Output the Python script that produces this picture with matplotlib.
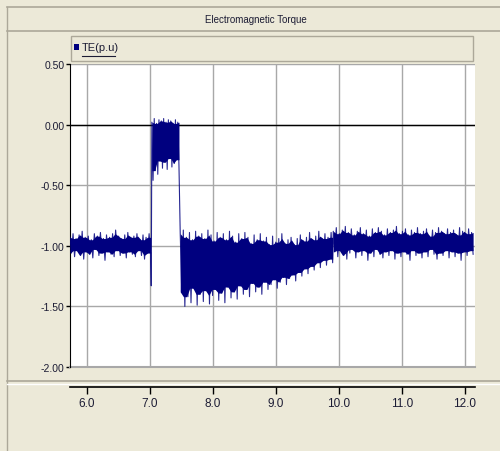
import numpy as np
import matplotlib.pyplot as plt
from matplotlib.lines import Line2D
from matplotlib.patches import Rectangle

plt.rcParams['font.family'] = ['Liberation Sans', 'DejaVu Sans']

#####################################################################################################################
# TE(p.u) read as alternating peak / trough pairs, one list pair per interval

# steady state before the disturbance
pre_t = (5.73, 7.01)
pre_hi = [-0.93, -0.90, -0.94, -0.91, -0.88, -0.93, -0.92, -0.95, -0.90, -0.92, -0.89, -0.94, -0.91, -0.93,
          -0.90, -0.87, -0.92, -0.94, -0.91, -0.89, -0.93, -0.92, -0.90, -0.95, -0.91, -0.93, -0.90]
pre_lo = [-1.06, -1.09, -1.04, -1.08, -1.11, -1.05, -1.07, -1.10, -1.03, -1.08, -1.06, -1.12, -1.05, -1.07,
          -1.09, -1.04, -1.08, -1.06, -1.10, -1.05, -1.07, -1.09, -1.04, -1.08, -1.11, -1.06, -1.07]

# switching dip
dip_t = [7.02]
dip_v = [-1.33]

# fault interval
fault_t = (7.03, 7.46)
fault_hi = [0.02, 0.05, 0.01, 0.04, 0.03, 0.05, 0.02, 0.04, 0.03, 0.01, 0.04, 0.02]
fault_lo = [-0.46, -0.38, -0.41, -0.30, -0.36, -0.31, -0.37, -0.28, -0.35, -0.32, -0.29, -0.34]

# recovery after clearing
rec_t = (7.48, 9.90)
rec_hi = [-0.90, -0.87, -0.93, -0.89, -0.95, -0.88, -0.92, -0.90, -0.94, -0.87,
          -0.91, -0.96, -0.89, -0.93, -0.90, -0.95, -0.88, -0.92, -0.97, -0.90,
          -0.94, -0.89, -0.93, -0.98, -0.91, -0.95, -0.90, -0.96, -0.93, -0.99,
          -0.92, -0.97, -0.94, -0.90, -0.98, -0.95, -0.93, -0.99, -0.94, -0.91,
          -0.96, -0.93, -0.89, -0.95, -0.92, -0.88, -0.94, -0.90, -0.93, -0.89]
rec_lo = [-1.38, -1.50, -1.42, -1.47, -1.35, -1.49, -1.40, -1.46, -1.37, -1.48,
          -1.41, -1.36, -1.45, -1.39, -1.47, -1.34, -1.43, -1.38, -1.44, -1.33,
          -1.40, -1.36, -1.42, -1.31, -1.38, -1.34, -1.40, -1.30, -1.36, -1.32,
          -1.28, -1.35, -1.30, -1.26, -1.32, -1.27, -1.24, -1.29, -1.22, -1.25,
          -1.19, -1.23, -1.17, -1.20, -1.14, -1.18, -1.12, -1.16, -1.11, -1.14]

# back to steady state
post_t = (9.91, 12.13)
post_hi = [-0.88, -0.85, -0.90, -0.87, -0.84, -0.89, -0.86, -0.91, -0.88, -0.85,
           -0.90, -0.87, -0.92, -0.86, -0.89, -0.85, -0.88, -0.91, -0.86, -0.89,
           -0.87, -0.84, -0.90, -0.88, -0.86, -0.91, -0.87, -0.89, -0.85, -0.90,
           -0.88, -0.86, -0.92, -0.87, -0.89, -0.85, -0.88, -0.90, -0.86, -0.89,
           -0.87, -0.91, -0.85, -0.88, -0.90, -0.86, -0.89]
post_lo = [-1.05, -1.09, -1.04, -1.08, -1.11, -1.06, -1.03, -1.10, -1.05, -1.08,
           -1.04, -1.12, -1.06, -1.09, -1.03, -1.07, -1.10, -1.05, -1.08, -1.04,
           -1.11, -1.06, -1.09, -1.05, -1.07, -1.12, -1.04, -1.08, -1.06, -1.10,
           -1.05, -1.09, -1.03, -1.07, -1.11, -1.06, -1.08, -1.04, -1.10, -1.05,
           -1.09, -1.06, -1.12, -1.05, -1.08, -1.04, -1.07]

y_ticks = [0.5, 0.0, -0.5, -1.0, -1.5, -2.0]
y_labels = ['0.50', '0.00', '-0.50', '-1.00', '-1.50', '-2.00']
x_ticks = [6.0, 7.0, 8.0, 9.0, 10.0, 11.0, 12.0]
x_labels = ['6.0', '7.0', '8.0', '9.0', '10.0', '11.0', '12.0']

#####################################################################################################################

def peaks_to_trace(span, hi, lo):
    v = np.column_stack((hi, lo)).ravel()
    t = np.linspace(span[0], span[1], len(v))
    return t, v


def core_band(span, hi, lo):
    # inner envelope: the weaker of each two neighbouring peaks
    hi, lo = np.asarray(hi), np.asarray(lo)
    t = np.linspace(span[0], span[1], len(hi) - 1)
    top = np.minimum(hi[:-1], hi[1:])
    bot = np.maximum(lo[:-1], lo[1:])
    return t, bot, top


bands = [(pre_t, pre_hi, pre_lo), (fault_t, fault_hi, fault_lo),
         (rec_t, rec_hi, rec_lo), (post_t, post_hi, post_lo)]

segments = [peaks_to_trace(*bands[0]),
            (np.array(dip_t), np.array(dip_v)),
            peaks_to_trace(*bands[1]),
            peaks_to_trace(*bands[2]),
            peaks_to_trace(*bands[3])]
t = np.concatenate([s[0] for s in segments])
te = np.concatenate([s[1] for s in segments])

W, H = 500, 452
BG = '#ECE9D8'
EDGE = '#ACA899'
NAVY = '#00007f'
TXT = '#1c1c34'


def fx(px):
    return px / W


def fy(py):
    return 1 - py / H


fig = plt.figure(figsize=(W / 100, H / 100), dpi=100, facecolor=BG)

# panel frame: left border, title bar, separator to x-axis panel
fig.add_artist(Line2D([fx(7), fx(7)], [fy(8), fy(452)], color=EDGE, lw=1))
fig.add_artist(Line2D([fx(7), fx(500)], [fy(8), fy(8)], color=EDGE, lw=1.2))
fig.add_artist(Line2D([fx(7), fx(500)], [fy(32), fy(32)], color=EDGE, lw=1.2))
fig.add_artist(Line2D([fx(7), fx(500)], [fy(382), fy(382)], color=EDGE, lw=1.2))
fig.add_artist(Line2D([fx(7), fx(500)], [fy(384.5), fy(384.5)], color='white', lw=1))
fig.text(fx(256), fy(20), 'Electromagnetic Torque', ha='center', va='center', fontsize=7, color=TXT)

# legend bar
fig.add_artist(Rectangle((fx(71), fy(62)), fx(402), 25 / H, transform=fig.transFigure,
                         facecolor=BG, edgecolor=EDGE, lw=1))
fig.add_artist(Rectangle((fx(74), fy(51)), fx(5), 6 / H, transform=fig.transFigure,
                         facecolor=NAVY, edgecolor='none'))
fig.text(fx(82), fy(48), 'TE(p.u)', ha='left', va='center', fontsize=8, color=TXT)
fig.add_artist(Line2D([fx(82), fx(115)], [fy(57), fy(57)], color=TXT, lw=0.8))

ax = fig.add_axes([fx(70), fy(368), fx(405), 303 / H])
ax.set_facecolor('white')

# solid core of the noise band, thin trace on top reaching the peaks
for span, hi, lo in bands:
    tb, bot, top = core_band(span, hi, lo)
    ax.fill_between(tb, bot, top, color=NAVY, lw=0, zorder=3)
ax.plot(t, te, color=NAVY, lw=0.8, alpha=0.85, zorder=3)

ax.set_xlim(5.73, 12.16)
ax.set_ylim(-2.0, 0.5)
ax.set_yticks(y_ticks, y_labels)
ax.set_xticks(x_ticks, x_labels)
ax.grid(color='#a8a8a8', lw=1, zorder=0)
ax.set_axisbelow(True)
ax.axhline(0.0, color='black', lw=1, zorder=2)
ax.axhline(-2.0, color='#a8a8a8', lw=1.5, zorder=2, clip_on=False)

for side in ('top', 'right'):
    ax.spines[side].set_visible(False)
ax.spines['left'].set_color('black')
ax.spines['bottom'].set_position(('outward', 14.4))
ax.spines['bottom'].set_color('black')
ax.spines['bottom'].set_linewidth(1.2)

ax.tick_params(axis='y', direction='out', length=3, width=1, labelsize=7.5, pad=1, labelcolor=TXT)
ax.tick_params(axis='x', direction='out', length=5, width=1, labelsize=8.5, pad=2, labelcolor=TXT)

plt.savefig('out.png', dpi=100, facecolor=BG)
